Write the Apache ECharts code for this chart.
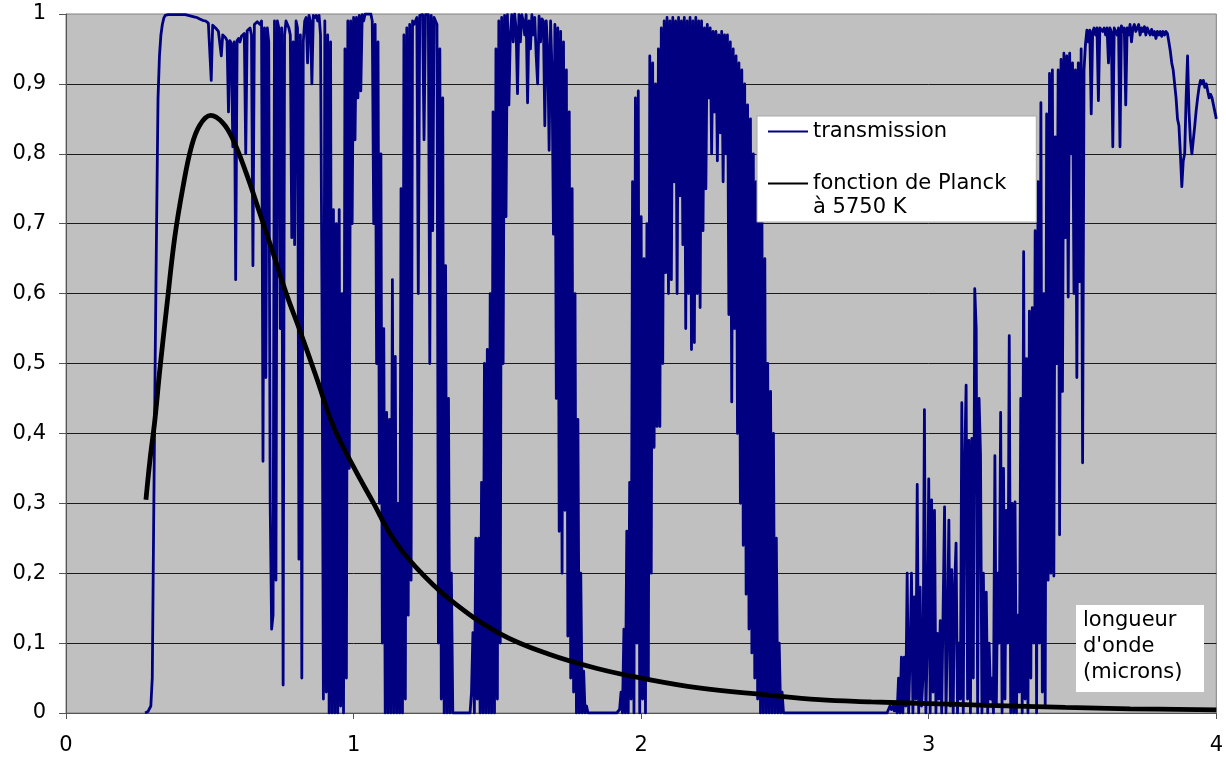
<!DOCTYPE html>
<html>
<head>
<meta charset="utf-8">
<script src="https://cdn.jsdelivr.net/npm/echarts@6/dist/echarts.min.js"></script>
<style>
  html, body { margin: 0; padding: 0; background: #fff; }
  #main { width: 1226px; height: 758px; }
</style>
</head>
<body>
<div id="main"></div>
<script>
// transmission: each row = [first wavelength (microns), values every transStep]
const transStep = 0.005;
const transmissionRows = [
  [0.275, [0, 0, .002, .004, .01]],
  [0.30, [.05,.28,.5,.7,.88,.94,.97,.985,.994,.998,.999,.999,.999,.999,.999,.999,.999,.999,.999,.999]],
  [0.40, [.999,.999,.999,.999,.998,.998,.998,.997,.997,.996,.995,.995,.994,.993,.992,.991,.99,.99,.988,.987]],
  [0.50, [.985,.905,.984,.982,.98,.978,.975,.973,.94,.97,.968,.966,.962,.86,.962,.958,.81,.96,.62,.962]],
  [0.60, [.965,.96,.968,.97,.972,.8,.976,.978,.98,.97,.64,.985,.987,.989,.99,.985,.99,.36,.98,.48]],
  [0.70, [.98,.96,.3,.12,.14,.99,.19,.99,.98,.55,.98,.04,.97,.99,.985,.98,.97,.68,.96,.67]],
  [0.80, [.99,.98,.22,.97,.05,.96,.99,.995,.93,.998,.99,.9,.998,.995,.998,.99,.998,.97,.6,.02]],
  [0.90, [.99,.03,.97,0,.96,0,.72,0,.7,0,.72,.01,.6,0,.95,.05,.99,.35,.99,.7]],
  [1.00, [.995,.82,.995,.88,.998,.89,.999,.99,1,.999,1,.999,1,.99,.7,.985,.5,.96,.3,.8]],
  [1.10, [.1,.55,0,.43,0,.42,0,.62,0,.51,0,.3,0,.75,0,.97,.02,.98,.14,.985]],
  [1.20, [.19,.99,.985,.99,.995,.6,.998,.999,.999,.82,.999,1,.999,.5,.998,.69,.995,.99,.985,.1]],
  [1.30, [.95,.02,.88,0,.64,0,.45,0,.2,0,0,0,0,0,0,0,0,0,0,0]],
  [1.40, [0,0,.03,.115,0,.25,.02,.25,0,.33,0,.5,0,.52,0,.6,0,.86,0,.95]],
  [1.50, [.02,.99,.1,.995,.5,.998,.71,.999,.87,.97,.999,.96,1,.98,.886,.999,.96,.999,.99,.97]],
  [1.60, [.999,.873,.99,.95,.999,.97,.995,.94,.9,.997,.96,.993,.99,.84,.99,.95,.805,.99,.92,.685]],
  [1.70, [.985,.45,.98,.26,.975,.2,.96,.29,.92,.11,.86,.05,.75,.03,.6,0,.42,0,.2,0]],
  [1.80, [.06,0,.01,0,0,0,0,0,0,0,0,0,0,0,0,0,0,0,0,0]],
  [1.90, [0,0,0,0,0,.005,.03,0,.12,0,.26,0,.33,.02,.76,0,.88,.1,.89,0]],
  [2.00, [.71,.02,.65,0,.7,.05,.94,.2,.93,.38,.9,.41,.95,.41,.98,.5,.99,.63,.995,.6]],
  [2.10, [.99,.62,.995,.76,.99,.6,.995,.74,.99,.67,.995,.55,.99,.6,.995,.52,.99,.53,.995,.6]],
  [2.20, [.99,.58,.99,.69,.98,.75,.985,.88,.98,.8,.975,.86,.975,.79,.97,.83,.975,.76,.97,.8]],
  [2.30, [.97,.57,.96,.445,.95,.55,.94,.4,.93,.3,.92,.24,.9,.17,.87,.12,.85,.086,.8,.05]],
  [2.40, [.76,.02,.71,0,.71,0,.65,0,.5,0,.46,0,.4,0,.25,0,.1,0,.03,0]],
  [2.50, [0,0,0,0,0,0,0,0,0,0,0,0,0,0,0,0,0,0,0,0]],
  [2.60, [0,0,0,0,0,0,0,0,0,0,0,0,0,0,0,0,0,0,0,0]],
  [2.70, [0,0,0,0,0,0,0,0,0,0,0,0,0,0,0,0,0,0,0,0]],
  [2.80, [0,0,0,0,0,0,0,0,0,0,0,0,.005,.01,.005,.01,.003,.012,0,.05]],
  [2.90, [0,.08,0,.08,.01,.2,0,.08,.2,0,.166,.02,.327,0,.18,.01,.05,.434,0,.1]],
  [3.00, [.335,0,.305,.03,.29,0,.114,.02,.132,0,.15,.295,0,.12,.276,.01,.205,0,.18,.243]],
  [3.10, [0,.1,.02,.444,0,.36,.469,.02,.39,0,.393,.05,.607,.55,0,.45,.37,0,.2,.01]],
  [3.20, [.173,0,.1,.02,.05,0,.368,.01,.2,.1,.43,0,.35,.02,.29,.1,.54,0,.3,0]],
  [3.30, [.302,0,.14,.03,.45,0,.66,.02,.507,0,.575,.05,.58,.1,.69,0,.76,.1,.873,.03]],
  [3.40, [.6,.01,.857,.19,.915,.2,.92,.196,.824,.5,.92,.255,.935,.46,.944,.68,.94,.595,.944,.8]],
  [3.50, [.93,.6,.92,.48,.93,.617,.95,.358,.92,.957,.977,.96,.977,.857,.975,.98,.97,.98,.876,.98]],
  [3.60, [.98,.975,.98,.97,.98,.93,.98,.975,.81,.98,.982,.97,.98,.81,.983,.975,.98,.87,.98,.97]],
  [3.70, [.985,.96,.98,.985,.975,.98,.985,.97,.98,.975,.982,.97,.98,.975,.97,.978,.97,.975,.965,.975]],
  [3.80, [.97,.975,.968,.975,.97,.975,.972,.96,.947,.93,.92,.9,.88,.85,.84,.8,.753,.79,.8,.88]],
  [3.90, [.94,.86,.82,.8,.798,.84,.862,.88,.895,.905,.9,.905,.895,.9,.89,.88,.885,.88,.87,.86,.85]]
];

// Planck curve at 5750 K
const planckX = [0.278, 0.292, 0.309, 0.326, 0.35, 0.378, 0.407, 0.436, 0.465, 0.503, 0.546, 0.581,
  0.627, 0.674, 0.72, 0.766, 0.8125, 0.87, 0.93, 1.0, 1.067, 1.137, 1.218, 1.333, 1.507, 1.68,
  1.854, 2.0, 2.2, 2.433, 2.618, 2.8, 3.0, 3.2, 3.475, 3.7, 4.0];
const planckY = [0.305, 0.362, 0.419, 0.49, 0.58, 0.68, 0.753, 0.81, 0.841, 0.855, 0.844, 0.82,
  0.772, 0.715, 0.658, 0.6, 0.548, 0.481, 0.41, 0.352, 0.302, 0.25, 0.208, 0.163, 0.114, 0.084,
  0.063, 0.05, 0.036, 0.026, 0.019, 0.016, 0.0135, 0.011, 0.008, 0.006, 0.0045];

const xTicks = { min: 0, max: 4, interval: 1 };
const yTicks = { min: 0, max: 1, interval: 0.1 };
const seriesNames = ['transmission', 'fonction de Planck'];
const planckNote = 'à 5750 K';
const axisNote = "longueur\nd'onde\n(microns)";

const FONT = 'DejaVu Sans';

const transmissionData = [];
transmissionRows.forEach(function (row) {
  row[1].forEach(function (v, j) {
    transmissionData.push([+(row[0] + j * transStep).toFixed(3), v]);
  });
});
const planckData = planckX.map(function (x, i) { return [x, planckY[i]]; });

const chart = echarts.init(document.getElementById('main'));

chart.setOption({
  animation: false,
  backgroundColor: '#fff',
  grid: {
    left: 66, right: 8, top: 14, bottom: 45,
    show: true,
    backgroundColor: '#c0c0c0',
    borderColor: '#808080',
    borderWidth: 1
  },
  xAxis: {
    type: 'value',
    min: xTicks.min, max: xTicks.max, interval: xTicks.interval,
    axisLine: { lineStyle: { color: '#555' } },
    axisTick: { show: true, length: 6, lineStyle: { color: '#555' } },
    axisLabel: { margin: 22, fontFamily: FONT, fontSize: 21, color: '#000' },
    splitLine: { show: false }
  },
  yAxis: {
    type: 'value',
    min: yTicks.min, max: yTicks.max, interval: yTicks.interval,
    axisLine: { show: true, lineStyle: { color: '#555' } },
    axisTick: { show: true, length: 7, lineStyle: { color: '#555' } },
    axisLabel: {
      margin: 20, fontFamily: FONT, fontSize: 21, color: '#000',
      formatter: function (v) { return String(Math.round(v * 10) / 10).replace('.', ','); }
    },
    splitLine: { show: true, showMaxLine: false, lineStyle: { color: '#1a1a1a', width: 1 } }
  },
  legend: {
    left: 757, top: 116,
    orient: 'vertical',
    selectedMode: false,
    backgroundColor: '#fff',
    borderColor: '#aaa',
    borderWidth: 1,
    padding: [3, 30, 26, 10],
    itemWidth: 40,
    itemHeight: 14,
    itemGap: 27,
    itemStyle: { opacity: 0 },
    textStyle: { fontFamily: FONT, fontSize: 21, lineHeight: 25, color: '#000' },
    data: seriesNames
  },
  graphic: [
    {
      type: 'text', left: 813, top: 197, z: 110,
      style: { text: planckNote, font: '21px "DejaVu Sans"', fill: '#000' }
    },
    {
      type: 'rect', left: 1076, top: 605, z: 100,
      shape: { width: 128, height: 87 },
      style: { fill: '#fff' }
    },
    {
      type: 'text', left: 1083, top: 608, z: 101,
      style: { text: axisNote, font: '21px "DejaVu Sans"', lineHeight: 26, fill: '#000' }
    }
  ],
  series: [
    {
      name: seriesNames[0],
      type: 'line',
      data: transmissionData,
      symbol: 'none',
      lineStyle: { color: '#000080', width: 2.8, join: 'round' },
      itemStyle: { color: '#000080' },
      z: 2
    },
    {
      name: seriesNames[1],
      type: 'line',
      data: planckData,
      symbol: 'none',
      smooth: 0.4,
      lineStyle: { color: '#000', width: 4.8 },
      itemStyle: { color: '#000' },
      z: 3
    }
  ]
});
</script>
</body>
</html>
